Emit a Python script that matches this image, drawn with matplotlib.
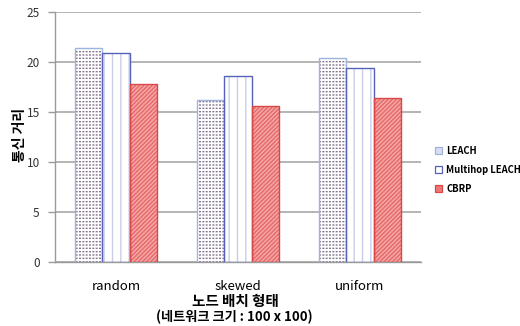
import matplotlib

matplotlib.use("Agg")
import matplotlib.pyplot as plt
import numpy as np
from matplotlib.patches import Patch

plt.rcParams["font.family"] = ["Noto Sans CJK KR", "DejaVu Sans"]
plt.rcParams["hatch.linewidth"] = 1.0

CATEGORIES = ["random", "skewed", "uniform"]
LEACH = [21.4, 16.2, 20.4]
MULTIHOP_LEACH = [20.9, 18.6, 19.4]
CBRP = [17.8, 15.6, 16.4]
SERIES_NAMES = ["LEACH", "Multihop LEACH", "CBRP"]
Y_TICKS = [0, 5, 10, 15, 20, 25]

# face, hatch colour, hatch, border
STYLES = [
    ("white", "#857390", "-----", "#9db5dc"),
    ("white", "#c9cdec", "||", "#5562b8"),
    ("#f5a6a6", "#e66a6a", "////////", "#d84848"),
]
LEGEND_FACES = ["#dcdcf0", "white", "#ee7878"]

fig = plt.figure(figsize=(5.2, 3.26), dpi=100)
ax = fig.add_axes([55 / 520, 64 / 326, 366 / 520, 250 / 326])

x = np.arange(len(CATEGORIES))
width = 0.224
for i, values in enumerate([LEACH, MULTIHOP_LEACH, CBRP]):
    face, hcol, hatch, edge = STYLES[i]
    pos = x + (i - 1) * width
    ax.bar(pos, values, width, color=face, edgecolor=hcol, hatch=hatch,
           linewidth=0, zorder=2)
    if i == 0:
        # white vertical strokes break the rows into dots
        ax.bar(pos, values, width, fill=False, edgecolor="white",
               hatch="|||||", linewidth=0, zorder=2.5)
    ax.bar(pos, values, width, fill=False, edgecolor=edge, linewidth=1.0, zorder=3)

ax.set_xlim(-0.5, 2.5)
ax.set_ylim(0, 25)
ax.set_yticks(Y_TICKS)
ax.set_xticks(x)
ax.set_xticklabels(CATEGORIES, fontsize=9.5)
ax.tick_params(axis="x", length=0, pad=13)
ax.tick_params(axis="y", length=5, width=1.0, color="#9a9a9a", labelsize=8.5,
               labelcolor="#333333", pad=6)
ax.grid(True, axis="y", color="#a8a8a8", linewidth=1.2, zorder=0)
for side in ["top", "right"]:
    ax.spines[side].set_visible(False)
for side in ["left", "bottom"]:
    ax.spines[side].set_color("#9a9a9a")
    ax.spines[side].set_linewidth(1.0)

fig.text(20 / 520, 1 - 135 / 326, "통신 거리", rotation=90, fontsize=10,
         fontweight="bold", ha="center", va="center")
fig.text(235 / 520, 1 - 301 / 326, "노드 배치 형태", fontsize=10.5,
         fontweight="bold", ha="center", va="center")
fig.text(234 / 520, 1 - 317 / 326, "(네트워크 크기 : 100 x 100)", fontsize=9.5,
         fontweight="bold", ha="center", va="center")

handles = [
    Patch(facecolor=LEGEND_FACES[i], edgecolor=STYLES[i][3], linewidth=0.9)
    for i in range(3)
]
fig.legend(handles, SERIES_NAMES, loc="center left",
           bbox_to_anchor=(431 / 520, 1 - 170 / 326), frameon=False,
           prop={"weight": "bold", "size": 6.8},
           handlelength=0.8, handleheight=0.8, handletextpad=0.4,
           labelspacing=0.95, borderaxespad=0)

fig.savefig("out.png", dpi=100)
